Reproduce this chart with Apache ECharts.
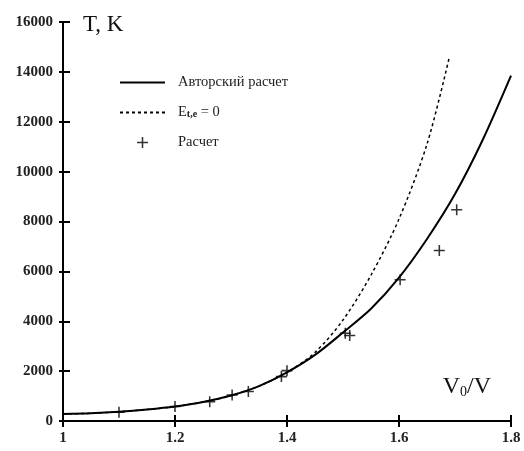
<!DOCTYPE html>
<html>
<head>
<meta charset="utf-8">
<script src="https://cdn.jsdelivr.net/npm/echarts@6/dist/echarts.min.js"></script>
<style>
  html, body { margin: 0; padding: 0; background: #fff; }
  #chart { width: 524px; height: 451px; }
</style>
</head>
<body>
<div id="chart"></div>
<script>
  // авторский расчет (сплошная)
  const authorX = [1.0, 1.05, 1.1, 1.15, 1.2, 1.25, 1.3, 1.35, 1.4, 1.45, 1.5, 1.55, 1.6, 1.65, 1.7, 1.75, 1.8];
  const authorT = [280, 310, 370, 460, 580, 760, 1020, 1400, 1950, 2650, 3550, 4500, 5750, 7300, 9100, 11300, 13850];

  // E_t,e = 0 (пунктир)
  const zeroX = [1.0, 1.05, 1.1, 1.15, 1.2, 1.25, 1.3, 1.35, 1.4, 1.45, 1.5, 1.55, 1.6, 1.65, 1.69];
  const zeroT = [280, 310, 370, 460, 580, 760, 1020, 1400, 1950, 2750, 4050, 5850, 8100, 11100, 14600];

  // расчет (крестики)
  const calcX = [1.1, 1.2, 1.262, 1.302, 1.331, 1.39, 1.4, 1.504, 1.512, 1.602, 1.672, 1.703, 1.802];
  const calcT = [350, 580, 775, 1045, 1180, 1780, 2020, 3520, 3430, 5660, 6840, 8470, 11590];

  const font = 'Liberation Serif';
  const plus = 'path://M4.3,0H5.7V4.3H10V5.7H5.7V10H4.3V5.7H0V4.3H4.3Z';

  const zip = (xs, ys) => xs.map((x, i) => [x, ys[i]]);

  const chart = echarts.init(document.getElementById('chart'));

  const axisLine = { lineStyle: { color: '#000', width: 2 } };
  const tickStyle = { color: '#000', width: 2 };
  const tickFont = { fontFamily: font, fontSize: 15, fontWeight: 'bold', color: '#222' };

  chart.setOption({
    animation: false,
    grid: { left: 63, right: 13, top: 22, bottom: 30 },
    legend: {
      orient: 'vertical',
      left: 114,
      top: 70,
      itemWidth: 45,
      itemHeight: 11,
      itemGap: 15,
      data: [
        { name: 'Авторский расчет', itemStyle: { opacity: 0 } },
        { name: 'Et,e = 0', itemStyle: { opacity: 0 } },
        { name: 'Расчет' }
      ],
      formatter: function (name) {
        if (name === 'Et,e = 0') return '{e|E}{s|t,e}{e| = 0}';
        return name;
      },
      textStyle: {
        fontFamily: font,
        fontSize: 14.5,
        color: '#222',
        padding: [0, 0, 0, 8],
        rich: {
          e: { fontFamily: font, fontSize: 14.5, color: '#222' },
          s: { fontFamily: font, fontSize: 10, color: '#222', fontWeight: 'bold', padding: [4, 0, 0, 0] }
        }
      }
    },
    xAxis: [{
      type: 'value',
      position: 'bottom',
      min: 1,
      max: 1.8,
      interval: 0.2,
      name: '{v|V}{s|0}{v|/V}',
      nameLocation: 'end',
      nameGap: -20,
      nameTextStyle: {
        align: 'right',
        verticalAlign: 'bottom',
        padding: [0, 0, 22, 0],
        rich: {
          v: { fontFamily: font, fontSize: 24, color: '#111' },
          s: { fontFamily: font, fontSize: 14, color: '#111', padding: [10, 0, 0, 0] }
        }
      },
      axisLine: axisLine,
      axisTick: { show: true, inside: false, length: 6, lineStyle: tickStyle },
      splitLine: { show: false },
      axisLabel: Object.assign({
        margin: 10,
        formatter: v => String(Math.round(v * 10) / 10)
      }, tickFont)
    }, {
      type: 'value',
      position: 'bottom',
      min: 1,
      max: 1.8,
      interval: 0.2,
      axisLine: axisLine,
      axisTick: { show: true, inside: true, length: 6, lineStyle: tickStyle },
      axisLabel: { show: false },
      splitLine: { show: false }
    }],
    yAxis: [{
      type: 'value',
      position: 'left',
      min: 0,
      max: 16000,
      interval: 2000,
      name: 'T, K',
      nameLocation: 'end',
      nameGap: -3,
      nameTextStyle: {
        fontFamily: font,
        fontSize: 23,
        color: '#111',
        align: 'left',
        verticalAlign: 'middle',
        padding: [0, 0, 0, 20]
      },
      axisLine: axisLine,
      axisTick: { show: true, inside: false, length: 4, lineStyle: tickStyle },
      splitLine: { show: false },
      axisLabel: Object.assign({
        margin: 10,
        formatter: v => String(v)
      }, tickFont)
    }, {
      type: 'value',
      position: 'left',
      min: 0,
      max: 16000,
      interval: 2000,
      axisLine: axisLine,
      axisTick: { show: true, inside: true, length: 7, lineStyle: tickStyle },
      axisLabel: { show: false },
      splitLine: { show: false }
    }],
    series: [{
      name: 'Авторский расчет',
      type: 'line',
      smooth: 0.3,
      showSymbol: false,
      symbol: 'none',
      lineStyle: { color: '#000', width: 2 },
      itemStyle: { color: '#000' },
      data: zip(authorX, authorT)
    }, {
      name: 'Et,e = 0',
      type: 'line',
      smooth: 0.3,
      showSymbol: false,
      symbol: 'none',
      lineStyle: { color: '#000', width: 1.5, type: [3, 3] },
      itemStyle: { color: '#000' },
      data: zip(zeroX, zeroT)
    }, {
      name: 'Расчет',
      type: 'scatter',
      symbol: plus,
      symbolSize: 11,
      symbolKeepAspect: true,
      itemStyle: { color: '#000' },
      data: zip(calcX, calcT)
    }]
  });
</script>
</body>
</html>
